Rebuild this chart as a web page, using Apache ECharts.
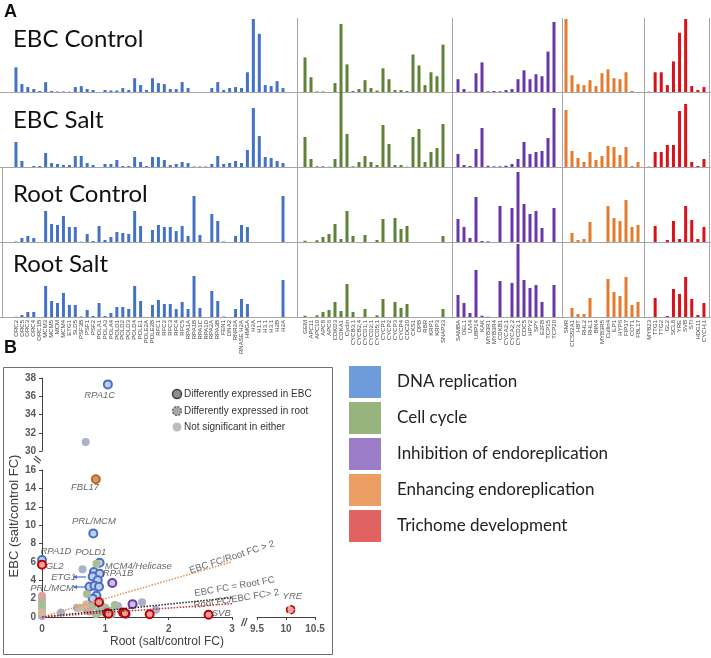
<!DOCTYPE html>
<html>
<head>
<meta charset="utf-8">
<script src="https://cdn.jsdelivr.net/npm/echarts@6/dist/echarts.min.js"></script>
<style>
  html, body { margin: 0; padding: 0; background: #fff; }
  #chart { width: 711px; height: 658px; }
</style>
</head>
<body>
<div id="chart"></div>
<script>
// ---- panel A: gene names per group ----
const blueGenes = ['ORC2','ORC5','ORC3','ORC4','ORC1B','MCM3','MCM5','MCM','MCM4','ETG1','SLD5','PSF3B','PSF1','PSF2','POLA1','POLA3','POLA4','POLD1','POLD2','POLD3','POLD4','POLE1','POLE2A','POLE2B','RFC1','RFC2','RFC3','RFC4','RFC5','RPA1A','RPA1B','RPA1C','RPA1D','RPA2A','RPA3B','FEN1','DNA2','RNR2A','RNASE H2A','HMGA','H2A','H1.1','H3.1','H3.1','H2B','H2A'];
const greenGenes = ['GEM','APC11','APC10','APC8','APC6','CDKD3','CDKA1','Cyclin','CYCB3;1','CYCB2;4','CYCD1;1','CYCD2;1','CYCD5;1','CYCP1','CYCP2','CYCP3','CYCP4','CDC20','CKS1','DPB','RBR','KRP1','KRP3','SNAP33'];
const purpleGenes = ['SAMBA','DEL1','UVI4','UBP14','KAK','MYB3R1','MYB3R4','CDKB1','CYCA2;1','CYCA2;2','CYCD3;1','CDC5','HPY2','SPY','E2FB','TCP15','TCP20'];
const orangeGenes = ['SMR','CCS52A1','HBT','RHL2','RHL1','BIN4','MYB3R5','Cullin4','ILP1','HYP6','FIP37','COT1','FBL17'];
const redGenes = ['MYB23','TTG1','TTG2','GL2','SCL8','YRE','SVB','STI','HDG11','CYCH;1'];

const rowNames = ['EBC Control', 'EBC Salt', 'Root Control', 'Root Salt'];

// expression (relative units)
const blueEbcCtrl  = [25,8,5,3,1,10,1,0.5,0.5,0.3,5,6,3,2,0,2,1.5,1.5,4,2,14,7,2,14,9,8,3,3,10,4,0,0,0,4,10,2,4,5,4,20,74,59,7,6,11,4];
const blueEbcSalt  = [25,6,0,1,1,14,4,3,2,2,11,11,4,2,0,3,3,7,1,1,10,5,1,10,10,7,2,3,5,4,0.5,0.5,0.5,3,11,3,4,6,4,17,59,31,10,9,6,4];
const blueRootCtrl = [0.5,4,6,4,0,31,18,17,26,15,15,0.3,8,1,16,2,5,10,9,8,31,16,0,12,17,15,15,11,16,6,46,7,0,28,21,0.5,0,6,17,15,0,0,0,0,0,46];
const blueRootSalt = [0.3,2,5,5,0,31,16,14,24,12,12,0.5,7,1,14,1,4,10,10,8,31,16,0,12,17,13,13,8,15,8,41,9,0,26,16,0.5,0,8,18,13,0,0,0,0,0,37];

const greenEbcCtrl  = [35,15,0.5,0.5,0,9,69,28,1,3,12,4,1.5,24,13,2,2,1,38,27,7,20,16,48];
const greenEbcSalt  = [30,8,0.7,0.7,0.3,8,75,33,0.7,5,11,5,2,42,23,2,2,0.3,30,38,5,15,19,43];
const greenRootCtrl = [1.3,0,1.7,5,8,18,3,31,6,0,7,0,2,23,0,24,13,16,0,0,0,0,0,6];
const greenRootSalt = [1.3,0,1.7,5,7,15,6,33,5,0,8,0,1.7,18,0,15,9,13,0,0,0,0,0,8];

const purpleEbcCtrl  = [13,3,0.3,19,30,0.7,1,0.7,2,3,13,22,13,18,16,41,71];
const purpleEbcSalt  = [13,2,1,18,39,1.3,0.7,0.7,1.3,3,8,25,13,15,16,29,59];
const purpleRootCtrl = [23,15,4,45,1,0.7,0,36,0,34,70,38,28,31,14,0,34];
const purpleRootSalt = [22,14,4,47,1.3,0.3,0,36,0,34,73,37,29,32,15,0,32];

const orangeEbcCtrl  = [74,17,8,7,12,6,19,23,14,13,20,1,0];
const orangeEbcSalt  = [57,16,9,5,15,7,11,21,20,12,20,1,5];
const orangeRootCtrl = [0,9,2,3,20,0,0,36,24,21,42,15,17];
const orangeRootSalt = [0,9,3,3,19,0,0,38,25,21,40,12,15];

const redEbcCtrl  = [0.3,20,20,7,31,60,74,6,2,5];
const redEbcSalt  = [0.3,15,15,22,22,56,63,5,1,8];
const redRootCtrl = [0,16,0,2,21,3,36,22,3,15];
const redRootSalt = [0,19,0,1,28,23,40,18,2,14];

// ---- panel B: fold changes [root FC, EBC FC, significance 0 none / 1 EBC / 2 root] ----
const categories = ['DNA replication', 'Cell cycle', 'Inhibition of endoreplication', 'Enhancing endoreplication', 'Trichome development'];
const bluePts = [[1.04,37.3,1],[0.69,31.0,0],[0.81,9.1,1],[0,6.2,1],[0.91,5.9,1],[0.82,4.9,1],[0.91,4.7,1],[0.80,4.4,1],[0.88,4.0,1],[0.75,3.3,1],[0.83,3.4,1],[0.90,3.3,1],[0.86,2.3,1],[0.80,2.0,1],[0.95,1.0,1],[1.05,0.5,1],[1.1,0.3,0],[0.9,0.6,0],[1.2,1.2,0],[0.64,5.2,0],[0.3,0.5,0],[0.55,1.0,0],[1.58,1.6,0],[1.8,0.8,0]];
const greenPts = [[0.86,5.8,0],[0.71,2.5,0],[0,2.0,0],[0,1.6,0],[0,1.2,0],[0,0.8,0],[0.8,1.2,0],[0.9,0.5,0],[1.0,1.0,0],[1.1,0.7,0],[0.85,0.3,0],[0.7,0.8,0],[1.15,1.3,0]];
const purplePts = [[1.11,3.7,1],[1.43,1.4,1],[1.32,0.35,1],[0,0.1,0],[1.0,0.6,0]];
const orangePts = [[0.85,15.0,1],[0,0.5,0],[0.7,1.4,0],[0.6,1.0,0]];
const redPts = [[0,5.7,1],[0.9,1.6,1],[1.03,0.4,1],[1.05,0.35,1],[1.28,0.5,1],[1.31,0.4,1],[1.7,0.3,1],[2.63,0.25,1],[10.08,0.8,2],[0,2.3,0],[0.75,0.6,0]];

// guide lines: EBC/Root = 2, 1, 0.5 (as drawn)
const guideHigh = [[0,0],[3,6]];
const guideEqual = [[0,0],[3,2.1]];
const guideLow = [[0,0],[3,1.45]];

const geneNotes = [[0.91,36.1,'RPA1C'],[0.68,14.1,'FBL17'],[0.82,10.4,'PRL/MCM'],[0.22,7.1,'RPA1D'],[0.77,7.0,'POLD1'],[0.2,5.55,'GL2'],[1.52,5.55,'MCM4/Helicase'],[0.34,4.35,'ETG1'],[1.2,4.8,'RPA1B'],[0.16,3.15,'PRL/MCM'],[2.83,0.43,'SVB'],[10.11,2.2,'YRE']];
const guideNotes = [[3.0,6.5,'EBC FC/Root FC > 2',18],[3.04,3.3,'EBC FC = Root FC',10],[3.07,1.96,'Root FC/EBC FC> 2',9]];

const chart = echarts.init(document.getElementById('chart'));

const groups = [
  { genes: blueGenes, color: '#4472C4', left: 13, width: 273, rows: [blueEbcCtrl, blueEbcSalt, blueRootCtrl, blueRootSalt] },
  { genes: greenGenes, color: '#5E8236', left: 302, width: 144, rows: [greenEbcCtrl, greenEbcSalt, greenRootCtrl, greenRootSalt] },
  { genes: purpleGenes, color: '#6A37A6', left: 455, width: 102, rows: [purpleEbcCtrl, purpleEbcSalt, purpleRootCtrl, purpleRootSalt] },
  { genes: orangeGenes, color: '#E47A2C', left: 563, width: 78, rows: [orangeEbcCtrl, orangeEbcSalt, orangeRootCtrl, orangeRootSalt] },
  { genes: redGenes, color: '#D8121B', left: 646, width: 61, rows: [redEbcCtrl, redEbcSalt, redRootCtrl, redRootSalt] }
];
const rowTops = [18, 92, 167, 242];
const rowHeights = [74, 75, 75, 75];

const grid = [], xAxis = [], yAxis = [], series = [];

groups.forEach(g => {
  g.rows.forEach((vals, r) => {
    const k = grid.length;
    grid.push({ left: g.left, top: rowTops[r], width: g.width, height: rowHeights[r] });
    xAxis.push({
      type: 'category', gridIndex: k, data: g.genes,
      axisLine: { show: false }, axisTick: { show: false },
      axisLabel: { show: r === 3, rotate: 90, interval: 0, fontSize: 6, margin: 3, color: '#444', fontFamily: 'Liberation Sans' }
    });
    yAxis.push({ type: 'value', gridIndex: k, min: 0, max: 75, show: false });
    series.push({
      type: 'bar', xAxisIndex: k, yAxisIndex: k, data: vals, barWidth: 3,
      itemStyle: { color: g.color }, clip: true, silent: true
    });
  });
});

// ---- panel B grids ----
const sLow = grid.length;
grid.push({ left: 42, top: 470, width: 190, height: 147 });
const sHigh = grid.length;
grid.push({ left: 42, top: 378, width: 190, height: 73 });
const sRight = grid.length;
grid.push({ left: 257, top: 470, width: 58, height: 147 });

const axisCol = '#404040';
const tickLab = { fontSize: 10, fontWeight: 'bold', color: '#595959', fontFamily: 'Liberation Sans' };
xAxis.push({ type: 'value', gridIndex: sLow, min: 0, max: 3, interval: 1, splitLine: { show: false },
  axisLine: { lineStyle: { color: axisCol } }, axisTick: { length: 3, lineStyle: { color: axisCol } }, axisLabel: Object.assign({ margin: 7 }, tickLab) });
yAxis.push({ type: 'value', gridIndex: sLow, min: 0, max: 16, interval: 2, splitLine: { show: false },
  axisLine: { show: true, lineStyle: { color: axisCol } }, axisTick: { show: true, length: 3, lineStyle: { color: axisCol } }, axisLabel: Object.assign({ margin: 6 }, tickLab) });
xAxis.push({ type: 'value', gridIndex: sHigh, min: 0, max: 3, show: false });
yAxis.push({ type: 'value', gridIndex: sHigh, min: 30, max: 38, interval: 2, splitLine: { show: false },
  axisLine: { show: true, lineStyle: { color: axisCol } }, axisTick: { show: true, length: 3, lineStyle: { color: axisCol } }, axisLabel: Object.assign({ margin: 6 }, tickLab) });
xAxis.push({ type: 'value', gridIndex: sRight, min: 9.5, max: 10.5, interval: 0.5, splitLine: { show: false },
  axisLine: { lineStyle: { color: axisCol } }, axisTick: { length: 3, lineStyle: { color: axisCol } }, axisLabel: Object.assign({ margin: 7 }, tickLab) });
yAxis.push({ type: 'value', gridIndex: sRight, min: 0, max: 16, show: false });

const catStyles = [
  { key: '#6E9BDA', fill: '#BFD0EE', edge: '#4A6DC8', dull: '#A7B2CC', pts: bluePts },
  { key: '#97B47E', fill: '#B9D0A4', edge: '#6E9A4C', dull: '#A9BC98', pts: greenPts },
  { key: '#9A7CC8', fill: '#CDBDE6', edge: '#6B3FA0', dull: '#B3A8C6', pts: purplePts },
  { key: '#EC9F64', fill: '#D9955C', edge: '#B56A2E', dull: '#D7B79A', pts: orangePts },
  { key: '#E06262', fill: '#F0A0A0', edge: '#C00000', dull: '#D9A3A3', pts: redPts }
];

function pointItem(p, c) {
  const sig = p[2];
  let st;
  if (sig === 1) st = { color: c.fill, borderColor: c.edge, borderWidth: 2 };
  else if (sig === 2) st = { color: c.fill, borderColor: c.edge, borderWidth: 1.5, borderType: 'dashed' };
  else st = { color: c.dull, borderWidth: 0 };
  return { value: [p[0], p[1]], itemStyle: st };
}

// guide lines first so points draw on top
[[guideHigh, '#E09050'], [guideEqual, '#222'], [guideLow, '#C03030']].forEach(([d, col]) => {
  series.push({ type: 'line', xAxisIndex: sLow, yAxisIndex: sLow, data: d, symbol: 'none', silent: true,
    lineStyle: { type: 'dotted', width: 1.5, color: col } });
});

catStyles.forEach((c, i) => {
  const inHigh = c.pts.filter(p => p[1] >= 30);
  const inRight = c.pts.filter(p => p[0] >= 9.5);
  const inLow = c.pts.filter(p => p[1] < 30 && p[0] < 9.5);
  [[inLow, sLow], [inHigh, sHigh], [inRight, sRight]].forEach(([pts, gi]) => {
    series.push({
      name: categories[i], type: 'scatter', xAxisIndex: gi, yAxisIndex: gi,
      symbolSize: 8, itemStyle: { color: c.key, opacity: 1 }, clip: false,
      data: pts.map(p => pointItem(p, c))
    });
  });
});

// gene name notes
function noteSeries(gi, items) {
  return {
    type: 'scatter', xAxisIndex: gi, yAxisIndex: gi, symbolSize: 0, clip: false, silent: true,
    data: items.map(n => ({ value: [n[0], n[1]], name: n[2],
      label: n[3] != null ? { rotate: n[3] } : undefined })),
    label: { show: true, position: 'inside', formatter: p => p.name, fontSize: 9.5, fontStyle: 'italic',
      color: '#404040', fontFamily: 'Liberation Sans' }
  };
}
series.push(noteSeries(sLow, geneNotes.filter(n => n[1] < 30 && n[0] < 9.5)));
series.push(noteSeries(sHigh, geneNotes.filter(n => n[1] >= 30)));
series.push(noteSeries(sRight, geneNotes.filter(n => n[0] >= 9.5)));
const gs = noteSeries(sLow, guideNotes);
gs.label.fontStyle = 'normal';
gs.label.fontSize = 9.5;
series.push(gs);

// decoration: frame lines and labels
const gfx = [];
const lineCol = '#A6A6A6';
[92, 167, 242, 317].forEach(y => gfx.push({ type: 'line', shape: { x1: 0, y1: y + 0.5, x2: 711, y2: y + 0.5 }, style: { stroke: lineCol, lineWidth: 1 }, silent: true }));
[297, 452, 562, 644, 709].forEach(x => gfx.push({ type: 'line', shape: { x1: x + 0.5, y1: 18, x2: x + 0.5, y2: 317 }, style: { stroke: lineCol, lineWidth: 1 }, silent: true }));
gfx.push({ type: 'line', shape: { x1: 2.5, y1: 167, x2: 2.5, y2: 317 }, style: { stroke: lineCol, lineWidth: 1 }, silent: true });

const rowTitleY = [42, 123, 197, 267];
rowNames.forEach((t, i) => gfx.push({ type: 'text', left: 13, top: rowTitleY[i] - 15, silent: true,
  style: { text: t, font: '24px Lato', fill: '#111' } }));
gfx.push({ type: 'text', left: 4, top: 3, style: { text: 'A', font: 'bold 18px "Liberation Sans"', fill: '#111' }, silent: true });
gfx.push({ type: 'text', left: 4, top: 339, style: { text: 'B', font: 'bold 18px "Liberation Sans"', fill: '#111' }, silent: true });

// scatter frame
gfx.push({ type: 'rect', shape: { x: 3.5, y: 367.5, width: 329, height: 287 }, style: { fill: 'none', stroke: '#6E6E6E', lineWidth: 1 }, silent: true, z: -1 });
// axis titles
gfx.push({ type: 'text', x: 14, y: 516, rotation: Math.PI / 2, silent: true,
  style: { text: 'EBC (salt/control FC)', font: '13px "Liberation Sans"', fill: '#404040', textAlign: 'center', textVerticalAlign: 'middle' } });
gfx.push({ type: 'text', x: 167, y: 642, silent: true,
  style: { text: 'Root (salt/control FC)', font: '12px "Liberation Sans"', fill: '#404040', textAlign: 'center', textVerticalAlign: 'middle' } });
// axis break marks
gfx.push({ type: 'text', x: 38, y: 460, rotation: 1.1, silent: true,
  style: { text: '//', font: 'bold 10px "Liberation Sans"', fill: '#404040', textAlign: 'center', textVerticalAlign: 'middle' } });
gfx.push({ type: 'text', x: 244, y: 623, silent: true,
  style: { text: '//', font: 'italic bold 10px "Liberation Sans"', fill: '#404040', textAlign: 'center', textVerticalAlign: 'middle' } });
// little arrows from the ETG1 and PRL/MCM notes
[[577, 74, 86], [587, 74, 87]].forEach(([y, x1, x2]) => {
  gfx.push({ type: 'polyline', shape: { points: [[x2, y], [x1, y]] }, style: { stroke: '#4A6DC8', lineWidth: 1.2 }, silent: true });
  gfx.push({ type: 'polygon', shape: { points: [[x1 - 1, y], [x1 + 3, y - 2], [x1 + 3, y + 2]] }, style: { fill: '#4A6DC8' }, silent: true });
});

// significance legend
const sigLegend = [
  ['Differently expressed in EBC', { fill: '#8C8C8C', stroke: '#404040', lineWidth: 1.5 }],
  ['Differently expressed in root', { fill: '#A6A6A6', stroke: '#595959', lineWidth: 1.2, lineDash: [2, 1.5] }],
  ['Not significant in either', { fill: '#BDBDBD', stroke: 'none' }]
];
[394, 411, 427].forEach((y, i) => {
  gfx.push({ type: 'circle', shape: { cx: 177, cy: y, r: 4.5 }, style: sigLegend[i][1], silent: true });
  gfx.push({ type: 'text', x: 184, y: y, silent: true,
    style: { text: sigLegend[i][0], font: '10px "Liberation Sans"', fill: '#333', textVerticalAlign: 'middle' } });
});

chart.setOption({
  animation: false,
  grid, xAxis, yAxis, series,
  legend: {
    data: categories, orient: 'vertical', left: 344, top: 361,
    icon: 'rect', itemWidth: 32, itemHeight: 32, itemGap: 4, selectedMode: false,
    itemStyle: { borderWidth: 0, opacity: 1 },
    textStyle: { fontSize: 17, fontFamily: 'Lato', color: '#222', padding: [0, 0, 0, 11] }
  },
  graphic: gfx
});
</script>
</body>
</html>
